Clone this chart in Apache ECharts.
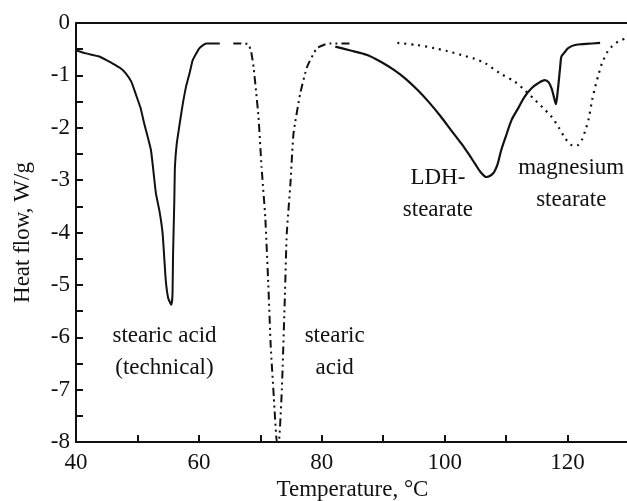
<!DOCTYPE html>
<html><head><meta charset="utf-8">
<script src="https://cdn.jsdelivr.net/npm/echarts@6/dist/echarts.min.js"></script>
<style>html,body{margin:0;padding:0;background:#fff}#c{width:627px;height:501px}</style>
</head><body><div id="c"></div>
<script>
// Stearic acid (technical)
var techT = [40, 41.6, 43.8, 45.9, 47.2, 48.1, 49.0, 49.7, 50.5, 51.1, 52.2, 53.0, 53.6, 54.1, 54.6, 55.0, 55.5, 55.7, 55.8, 56.0, 56.1, 56.4, 56.8, 57.3, 57.9, 58.5, 59.0, 60.1, 61.2, 63.4];
var techV = [-0.52, -0.58, -0.64, -0.77, -0.86, -0.96, -1.12, -1.35, -1.62, -1.92, -2.43, -3.25, -3.6, -4.02, -4.9, -5.25, -5.38, -5.2, -4.4, -3.4, -2.75, -2.3, -1.98, -1.6, -1.22, -0.95, -0.71, -0.48, -0.39, -0.39];
// Stearic acid
var saT = [65.6, 68.0, 68.5, 68.9, 69.3, 69.7, 70.2, 70.8, 71.3, 71.7, 72.2, 72.7, 73.0, 73.5, 74.0, 74.3, 74.9, 75.4, 76.5, 77.6, 79.2, 80.5, 81.4, 85.0];
var saV = [-0.39, -0.40, -0.55, -0.84, -1.3, -1.79, -2.75, -3.70, -5.0, -6.19, -7.15, -8.0, -8.0, -7.0, -5.2, -4.02, -3.07, -2.11, -1.34, -0.84, -0.48, -0.41, -0.39, -0.39];
// LDH-stearate
var ldhT = [82.2, 84.5, 87.4, 89.6, 91.8, 93.7, 95.6, 97.5, 99.4, 101.0, 102.7, 104.0, 104.9, 105.8, 106.8, 107.9, 108.6, 109.2, 110.0, 110.9, 112.0, 113.0, 114.1, 115.2, 116.3, 116.9, 117.4, 117.8, 118.1, 118.4, 118.8, 119.0, 119.6, 120.1, 121.2, 123.0, 125.3];
var ldhV = [-0.45, -0.52, -0.61, -0.74, -0.90, -1.07, -1.28, -1.52, -1.79, -2.04, -2.30, -2.52, -2.68, -2.84, -2.94, -2.87, -2.7, -2.43, -2.15, -1.85, -1.62, -1.41, -1.25, -1.15, -1.09, -1.13, -1.25, -1.42, -1.55, -1.3, -0.84, -0.64, -0.55, -0.48, -0.42, -0.40, -0.38];
// Magnesium stearate
var mgT = [92.3, 95.5, 98.3, 100.5, 102.7, 104.8, 106.5, 109.0, 111.4, 113.0, 114.7, 116.0, 117.4, 118.6, 119.6, 120.5, 121.1, 121.7, 122.3, 122.9, 123.4, 124.0, 124.5, 125.1, 125.6, 126.5, 127.2, 128.3, 129.6];
var mgV = [-0.38, -0.42, -0.48, -0.54, -0.61, -0.68, -0.76, -0.96, -1.12, -1.28, -1.47, -1.62, -1.79, -2.0, -2.2, -2.32, -2.35, -2.33, -2.24, -2.05, -1.85, -1.47, -1.22, -0.96, -0.77, -0.55, -0.45, -0.35, -0.29];

var xTicks = [40, 60, 80, 100, 120];
var yTicks = [0, -1, -2, -3, -4, -5, -6, -7, -8];

function zip(a, b) { return a.map(function (v, i) { return [v, b[i]]; }); }

var FONT = 'Liberation Serif';
var FS = 23;
var chart = echarts.init(document.getElementById('c'), null, {renderer: 'canvas'});

function lbl(text, t, v) {
  return {coord: [t, v], symbol: 'circle', symbolSize: 0,
    label: {show: true, position: 'inside', formatter: text, color: '#111',
      fontFamily: FONT, fontSize: FS, lineHeight: 32, align: 'center', verticalAlign: 'middle'}};
}

chart.setOption({
  animation: false,
  backgroundColor: '#fff',
  grid: {left: 76, width: 553, top: 23, height: 419, containLabel: false, outerBoundsMode: 'none'},
  xAxis: [{
    type: 'value', min: 40, max: 130, interval: 20,
    name: 'Temperature, \u00b0C', nameLocation: 'middle', nameGap: 35,
    nameTextStyle: {fontFamily: FONT, fontSize: FS, color: '#111', verticalAlign: 'top'},
    axisLine: {show: true, onZero: false, lineStyle: {color: '#111', width: 2}},
    axisTick: {show: true, inside: true, length: 7, lineStyle: {color: '#111', width: 2}},
    minorTick: {show: true, splitNumber: 2, length: 7, lineStyle: {color: '#111', width: 2}},
    splitLine: {show: false},
    axisLabel: {fontFamily: FONT, fontSize: FS, color: '#111', margin: 9,
      formatter: function (v) { return xTicks.indexOf(v) >= 0 ? String(v) : ''; }}
  }, {
    type: 'value', position: 'top', min: 40, max: 130,
    axisLine: {show: true, lineStyle: {color: '#111', width: 2}},
    axisTick: {show: false}, axisLabel: {show: false}, splitLine: {show: false}
  }],
  yAxis: {
    type: 'value', min: -8, max: 0, interval: 1,
    name: 'Heat flow, W/g', nameLocation: 'middle', nameGap: 42, nameRotate: 90,
    nameTextStyle: {fontFamily: FONT, fontSize: FS, color: '#111'},
    axisLine: {show: true, onZero: false, lineStyle: {color: '#111', width: 2}},
    axisTick: {show: true, inside: true, length: 7, lineStyle: {color: '#111', width: 2}},
    minorTick: {show: true, splitNumber: 2, length: 7, lineStyle: {color: '#111', width: 2}},
    splitLine: {show: false},
    axisLabel: {fontFamily: FONT, fontSize: FS, color: '#111', margin: 6,
      formatter: function (v) { return yTicks.indexOf(v) >= 0 ? String(v) : ''; }}
  },
  series: [
    {type: 'line', name: 'stearic acid (technical)', data: zip(techT, techV), showSymbol: false, symbol: 'none',
     smooth: 0.15, lineStyle: {color: '#111', width: 2}, clip: true,
     markPoint: {data: [
       lbl('stearic acid\n(technical)', 54.4, -6.28),
       lbl('stearic\nacid', 82.1, -6.28),
       lbl('LDH-\nstearate', 98.9, -3.27),
       lbl('magnesium\nstearate', 120.6, -3.08)
     ]}},
    {type: 'line', name: 'stearic acid', data: zip(saT, saV), showSymbol: false, symbol: 'none',
     smooth: 0.15, lineStyle: {color: '#111', width: 2, type: [8, 4, 2, 4, 2, 4]}, clip: true},
    {type: 'line', name: 'LDH-stearate', data: zip(ldhT, ldhV), showSymbol: false, symbol: 'none',
     smooth: 0.3, lineStyle: {color: '#111', width: 2.2}, clip: true},
    {type: 'line', name: 'magnesium stearate', data: zip(mgT, mgV), showSymbol: false, symbol: 'none',
     smooth: 0.3, lineStyle: {color: '#111', width: 2.2, type: [2, 5]}, clip: true}
  ]
});
</script></body></html>
